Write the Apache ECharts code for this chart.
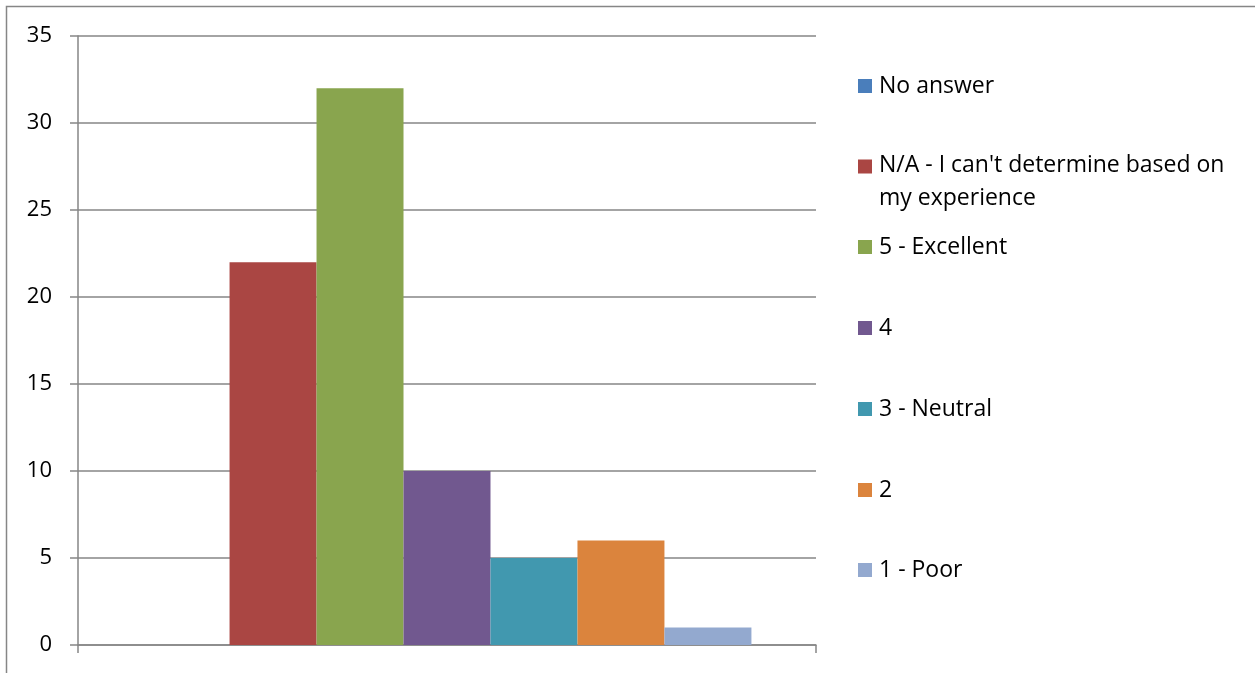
<!DOCTYPE html>
<html>
<head>
<meta charset="utf-8">
<script src="https://cdn.jsdelivr.net/npm/echarts@6/dist/echarts.min.js"></script>
<style>html,body{margin:0;padding:0;background:#fff;}#c{width:1255px;height:673px;}</style>
</head>
<body>
<div id="c"></div>
<script>
const categories = [''];
const seriesNames = ['No answer', "N/A - I can't determine based on\nmy experience", '5 - Excellent', '4', '3 - Neutral', '2', '1 - Poor'];
const seriesValues = [0, 22, 32, 10, 5, 6, 1];
const seriesColors = ['#4A7EBB', '#AA4643', '#89A54E', '#71588F', '#4198AF', '#DB843D', '#93A9CF'];
const yTicks = [0, 5, 10, 15, 20, 25, 30, 35];

const legendTops = [84, 164, 245, 326, 407, 488, 568];
const font = '"Open Sans", "Noto Sans", sans-serif';

const chart = echarts.init(document.getElementById('c'));
const legends = seriesNames.map((n, i) => {
  const two = n.indexOf('\n') >= 0;
  return {
    orient: 'vertical',
    left: 858,
    top: two ? legendTops[i] - 15 : legendTops[i] - 14.5,
    itemWidth: 14,
    itemHeight: two ? 44.8 : 14,
    icon: two ? 'path://M0,0L10,0L10,10L0,10Z M0,32L0.001,32L0,32Z' : 'rect',
    selectedMode: false,
    padding: 0,
    data: [n],
    textStyle: { fontFamily: font, fontSize: 23, color: '#000', lineHeight: 33, padding: [0, 0, 0, 2] }
  };
});

chart.setOption({
  animation: false,
  backgroundColor: '#fff',
  grid: { left: 78, top: 36, width: 738, height: 609, containLabel: false },
  legend: legends,
  xAxis: {
    type: 'category',
    data: categories,
    axisLine: { lineStyle: { color: '#868686', width: 1.5 } },
    axisTick: { show: true, length: 8, lineStyle: { color: '#868686', width: 1.5 } },
    axisLabel: { show: false }
  },
  yAxis: {
    type: 'value',
    min: yTicks[0],
    max: yTicks[yTicks.length - 1],
    interval: 5,
    axisLine: { show: true, lineStyle: { color: '#868686', width: 1.5 } },
    axisTick: { show: true, length: 8, lineStyle: { color: '#868686', width: 1.5 } },
    splitLine: { lineStyle: { color: '#868686', width: 1.5 } },
    axisLabel: { fontFamily: font, fontSize: 22, color: '#000', margin: 26 }
  },
  graphic: [{
    type: 'rect',
    shape: { x: 6.5, y: 6.5, width: 1400, height: 800 },
    style: { fill: 'none', stroke: '#868686', lineWidth: 1.5 },
    silent: true,
    z: 100
  }],
  series: seriesNames.map((n, i) => ({
    type: 'bar',
    name: n,
    data: [seriesValues[i]],
    itemStyle: { color: seriesColors[i] },
    barGap: '0%',
    barCategoryGap: '17.5%'
  }))
});
</script>
</body>
</html>
